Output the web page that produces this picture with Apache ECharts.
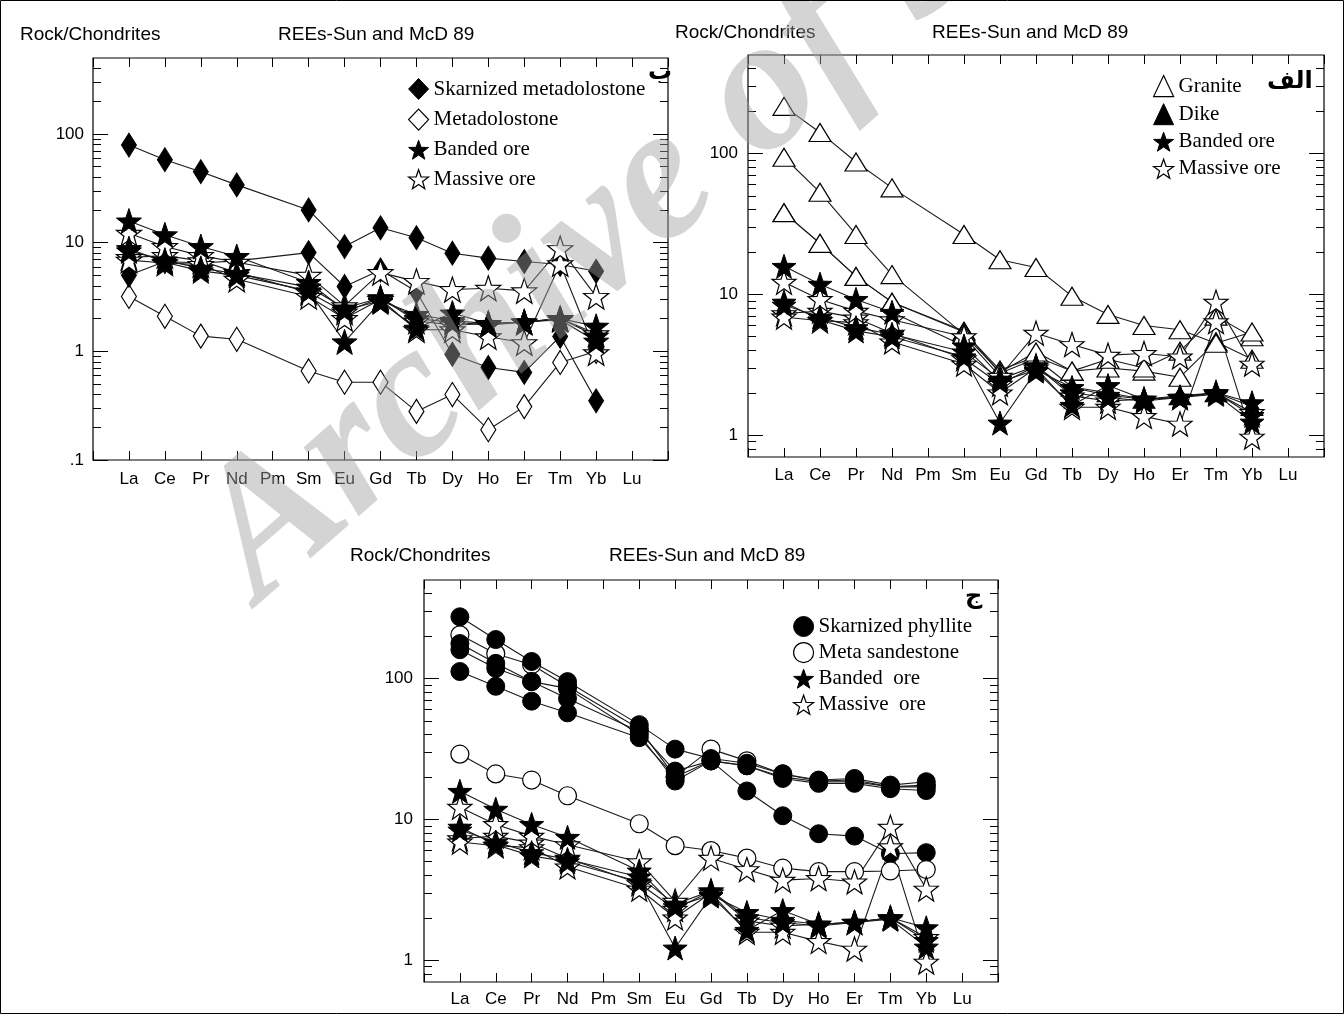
<!DOCTYPE html>
<html>
<head>
<meta charset="utf-8">
<script src="https://cdn.jsdelivr.net/npm/echarts@6/dist/echarts.min.js"></script>
<style>
  html, body { margin: 0; padding: 0; background: #fff; }
  #chart { width: 1344px; height: 1014px; }
</style>
</head>
<body>
<div id="chart"></div>
<script>
// REE order on the x axis (Pm and Lu have no data)
const elements = ['La', 'Ce', 'Pr', 'Nd', 'Pm', 'Sm', 'Eu', 'Gd', 'Tb', 'Dy', 'Ho', 'Er', 'Tm', 'Yb', 'Lu']

// ore samples, shown in all three panels
const bandedOre1 = [15.8, 11.8, 9.2, 7.45, null, 4.3, 2.4, 2.9, 2.18, 1.92, 1.8, 1.86, 2.0, 1.7, null]
const bandedOre2 = [8.8, 6.6, 5.5, 5.0, null, 3.6, 1.22, 2.85, 1.63, 2.25, 1.8, 1.86, 2.0, 1.38, null]
const bandedOre3 = [8.4, 6.9, 5.8, 5.2, null, 3.9, 2.5, 3.1, 2.0, 1.85, 1.75, 1.85, 1.95, 1.24, null]
const massiveOre1 = [12.2, 9.2, 7.6, 6.6, null, 5.0, 2.62, 5.3, 4.4, 3.7, 3.8, 3.6, 8.8, 3.2, null]
const massiveOre2 = [6.9, 6.5, 6.3, 4.6, null, 3.2, 2.0, 3.0, 1.58, 1.58, 1.36, 1.2, 6.4, 0.97, null]
const massiveOre3 = [7.3, 7.6, 6.8, 5.3, null, 3.5, 2.3, 3.1, 1.9, 1.75, 1.8, 1.85, 2.0, 1.45, null]

// panel ب
const skarnMetadolostone1 = [79, 58, 45, 34, null, 20, 9.2, 13.7, 11.1, 8.0, 7.2, 6.7, 6.3, 5.45, null]
const skarnMetadolostone2 = [5.0, 6.7, 6.5, 6.8, null, 8.1, 3.95, 5.6, 3.55, 0.94, 0.71, 0.64, 1.37, 0.35, null]
const metadolostone = [3.2, 2.1, 1.38, 1.29, null, 0.66, 0.52, 0.52, 0.28, 0.4, 0.19, 0.31, 0.79, 1.0, null]

// panel الف
const granite1 = [216, 141, 87, 57, null, 26.6, 17.6, 15.5, 9.7, 7.2, 6.0, 5.6, 4.5, 5.4, null]
const granite2 = [94, 53, 26.6, 13.8, null, 5.2, 2.8, 3.9, 2.85, 3.46, 3.0, 3.95, 7.0, 5.0, null]
const granite3 = [38, 23, 13.4, 8.8, null, 5.4, 2.9, 3.6, 2.85, 3.0, 2.85, 2.58, 4.6, 3.46, null]
const dike = [38, 23, 13.4, 8.8, null, 5.5, 2.75, 3.5, 2.2, 2.0, 1.8, 1.9, 2.0, 1.6, null]

// panel ج
const phyllite1 = [274, 189, 132, 95, null, 47, 31.5, 27, 25, 21, 19, 19.5, 17.5, 18.5, null]
const phyllite2 = [177, 128, 95, 72, null, 42, 22, 26, 24, 20, 18.5, 18.5, 17, 17, null]
const phyllite3 = [160, 118, 95, 85, null, 40, 18.7, 26, 24, 19.5, 18, 18, 16.5, 16, null]
const phyllite4 = [112, 88, 69, 57, null, 38, 20, 26, 15.9, 10.6, 7.9, 7.6, 5.7, 5.8, null]
const sandstone1 = [204, 150, 125, 88, null, 44, 20, 31.5, 26, 21, 18.7, 19, 17, 17.5, null]
const sandstone2 = [29, 21, 19, 14.7, null, 9.3, 6.5, 6.0, 5.3, 4.5, 4.25, 4.25, 4.3, 4.4, null]

const star = 'path://M0,-10L2.35,-3.24L9.51,-3.09L3.8,1.24L5.88,8.09L0,4.1L-5.88,8.09L-3.8,1.24L-9.51,-3.09L-2.35,-3.24Z'
const sans = 'Liberation Sans'
const serif = 'Liberation Serif'

const chart = echarts.init(document.getElementById('chart'))

function pts(vals) {
  return vals.map((v, i) => [i + 1, v]).filter(p => p[1] != null)
}

function line(name, vals, g, symbol, size, filled) {
  return {
    type: 'line',
    name: name,
    data: pts(vals),
    xAxisIndex: g * 2,
    yAxisIndex: g * 4,
    symbol: symbol,
    symbolSize: size,
    showSymbol: true,
    showAllSymbol: true,
    lineStyle: { color: '#1a1a1a', width: 1.1 },
    itemStyle: filled
      ? { color: '#000', borderColor: '#000', borderWidth: 1 }
      : { color: '#fff', borderColor: '#000', borderWidth: 1.2 },
    emphasis: { disabled: true },
    animation: false
  }
}

function minorsFor(min, max) {
  const out = []
  for (let d = 0.1; d <= 1000; d *= 10) {
    for (let k = 2; k <= 9; k++) {
      const v = +(d * k).toPrecision(3)
      if (v > min && v < max) out.push(v)
    }
  }
  return out
}

function xAxes(g, margin) {
  const base = {
    gridIndex: g, type: 'value', min: 0, max: 16, interval: 1,
    axisLine: { show: false }, splitLine: { show: false }
  }
  return [
    Object.assign({}, base, {
      position: 'bottom',
      axisTick: { inside: true, length: 9, lineStyle: { color: '#000' } },
      axisLabel: {
        formatter: v => elements[v - 1] || '',
        fontFamily: sans, fontSize: 17, color: '#000', margin: margin
      }
    }),
    Object.assign({}, base, {
      position: 'top',
      axisTick: { inside: true, length: 9, lineStyle: { color: '#000' } },
      axisLabel: { show: false }
    })
  ]
}

function yAxes(g, min, max, majors, margin) {
  const minors = minorsFor(min, max)
  const base = {
    gridIndex: g, type: 'log', logBase: 10, min: min, max: max,
    axisLine: { show: false }, splitLine: { show: false }
  }
  const axes = []
  // order: left major, left minor, right major, right minor
  ;['left', 'right'].forEach(pos => {
    axes.push(Object.assign({}, base, {
      position: pos,
      axisTick: { inside: true, length: 15, customValues: majors, lineStyle: { color: '#000' } },
      axisLabel: pos === 'left'
        ? { customValues: majors, formatter: v => (v < 1 ? String(v).replace('0.', '.') : String(v)),
            fontFamily: sans, fontSize: 17, color: '#000', margin: margin }
        : { show: false }
    }))
    axes.push(Object.assign({}, base, {
      position: pos,
      axisTick: { inside: true, length: 8, customValues: minors, lineStyle: { color: '#000' } },
      axisLabel: { show: false }
    }))
  })
  return axes
}

const gridBase = { show: true, borderColor: '#000', borderWidth: 1.2, backgroundColor: 'transparent' }

const series = [
  // panel ب (grid 0)
  line('Metadolostone', metadolostone, 0, 'diamond', [15, 24], false),
  line('Skarnized metadolostone', skarnMetadolostone2, 0, 'diamond', [15, 24], true),
  line('Skarnized metadolostone', skarnMetadolostone1, 0, 'diamond', [15, 24], true),
  line('Massive ore', massiveOre3, 0, star, 25, false),
  line('Massive ore', massiveOre2, 0, star, 25, false),
  line('Massive ore', massiveOre1, 0, star, 25, false),
  line('Banded ore', bandedOre3, 0, star, 25, true),
  line('Banded ore', bandedOre2, 0, star, 25, true),
  line('Banded ore', bandedOre1, 0, star, 25, true),
  // panel الف (grid 1)
  line('Dike', dike, 1, 'triangle', [22, 18], true),
  line('Granite', granite3, 1, 'triangle', [22, 18], false),
  line('Granite', granite2, 1, 'triangle', [22, 18], false),
  line('Granite', granite1, 1, 'triangle', [22, 18], false),
  line('Massive ore', massiveOre3, 1, star, 24, false),
  line('Massive ore', massiveOre2, 1, star, 24, false),
  line('Massive ore', massiveOre1, 1, star, 24, false),
  line('Banded ore', bandedOre3, 1, star, 24, true),
  line('Banded ore', bandedOre2, 1, star, 24, true),
  line('Banded ore', bandedOre1, 1, star, 24, true),
  // panel ج (grid 2)
  line('Meta sandestone', sandstone1, 2, 'circle', 18, false),
  line('Skarnized phyllite', phyllite4, 2, 'circle', 18, true),
  line('Skarnized phyllite', phyllite3, 2, 'circle', 18, true),
  line('Skarnized phyllite', phyllite2, 2, 'circle', 18, true),
  line('Skarnized phyllite', phyllite1, 2, 'circle', 18, true),
  line('Meta sandestone', sandstone2, 2, 'circle', 18, false),
  line('Massive  ore', massiveOre3, 2, star, 24, false),
  line('Massive  ore', massiveOre2, 2, star, 24, false),
  line('Massive  ore', massiveOre1, 2, star, 24, false),
  line('Banded  ore', bandedOre3, 2, star, 24, true),
  line('Banded  ore', bandedOre2, 2, star, 24, true),
  line('Banded  ore', bandedOre1, 2, star, 24, true)
]

const filledItem = { color: '#000', borderColor: '#000', borderWidth: 1 }
const openItem = { color: '#fff', borderColor: '#000', borderWidth: 1.2 }
const legendText = { fontFamily: serif, fontSize: 21, color: '#000' }

function legend(left, top, gap, items) {
  return {
    orient: 'vertical', left: left, top: top, itemGap: gap,
    itemWidth: 20, itemHeight: 21, padding: 0, selectedMode: false,
    textStyle: legendText,
    data: items.map(it => ({ name: it[0], icon: it[1], itemStyle: it[2] ? filledItem : openItem }))
  }
}

const titleStyle = { fontFamily: sans, fontSize: 19, fontWeight: 'normal', color: '#000' }
const arabicStyle = { fontFamily: 'DejaVu Sans', fontSize: 24, fontWeight: 'bold', color: '#000' }

const option = {
  backgroundColor: '#fff',
  animation: false,
  title: [
    { text: 'Rock/Chondrites', left: 20, top: 25, padding: 0, textStyle: titleStyle },
    { text: 'REEs-Sun and McD 89', left: 278, top: 25, padding: 0, textStyle: titleStyle },
    { text: 'Rock/Chondrites', left: 675, top: 23, padding: 0, textStyle: titleStyle },
    { text: 'REEs-Sun and McD 89', left: 932, top: 23, padding: 0, textStyle: titleStyle },
    { text: 'Rock/Chondrites', left: 350, top: 546, padding: 0, textStyle: titleStyle },
    { text: 'REEs-Sun and McD 89', left: 609, top: 546, padding: 0, textStyle: titleStyle },
    { text: 'ب', left: 648, top: 61, padding: 0, textStyle: arabicStyle },
    { text: 'الف', left: 1267, top: 70, padding: 0, textStyle: arabicStyle },
    { text: 'ج', left: 965, top: 585, padding: 0, textStyle: arabicStyle }
  ],
  grid: [
    Object.assign({ left: 93, top: 58, width: 575, height: 402 }, gridBase),
    Object.assign({ left: 748, top: 55, width: 576, height: 402 }, gridBase),
    Object.assign({ left: 424, top: 580, width: 574, height: 402 }, gridBase)
  ],
  xAxis: [].concat(xAxes(0, 11), xAxes(1, 10), xAxes(2, 9)),
  yAxis: [].concat(
    yAxes(0, 0.1, 500, [0.1, 1, 10, 100], 9),
    yAxes(1, 0.7, 500, [1, 10, 100], 10),
    yAxes(2, 0.7, 500, [1, 10, 100], 11)
  ),
  legend: [
    legend(408, 78, 8.5, [
      ['Skarnized metadolostone', 'diamond', true],
      ['Metadolostone', 'diamond', false],
      ['Banded ore', star, true],
      ['Massive ore', star, false]
    ]),
    legend(1153, 75, 6, [
      ['Granite', 'triangle', false],
      ['Dike', 'triangle', true],
      ['Banded ore', star, true],
      ['Massive ore', star, false]
    ]),
    legend(793, 616, 5, [
      ['Skarnized phyllite', 'circle', true],
      ['Meta sandestone', 'circle', false],
      ['Banded  ore', star, true],
      ['Massive  ore', star, false]
    ])
  ],
  graphic: [
    {
      type: 'rect', z: 200, silent: true,
      shape: { x: 0.5, y: 0.5, width: 1343, height: 1013 },
      style: { fill: 'none', stroke: '#000', lineWidth: 1 }
    },
    {
      type: 'text', z: 150, silent: true,
      x: 290, y: 638, rotation: 0.72,
      style: {
        text: 'Archive of SID',
        font: 'italic bold 192px "Liberation Serif"',
        fill: 'rgba(160,160,160,0.45)',
        verticalAlign: 'bottom'
      }
    }
  ],
  series: series
}

chart.setOption(option)
</script>
</body>
</html>
